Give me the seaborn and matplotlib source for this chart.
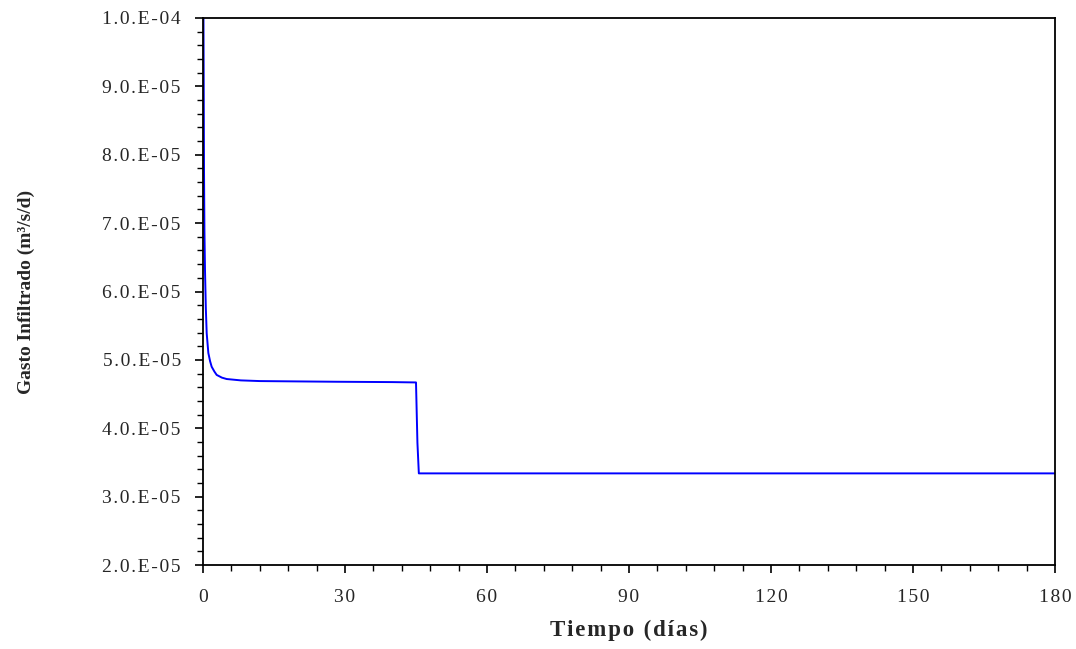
import numpy as np
import pandas as pd
import matplotlib
matplotlib.use("Agg")
import matplotlib.pyplot as plt
import seaborn as sns
from matplotlib.ticker import MultipleLocator, FixedLocator

# ---- data ----
tiempo_dias = [0.0, 0.1, 0.21, 0.3, 0.42, 0.6, 0.78, 1.13, 1.5, 1.83, 2.4, 2.89,
               4.0, 5.0, 8.0, 12.0, 20.0, 28.2, 40.0, 45.0, 45.3, 45.6, 60.0,
               90.0, 120.0, 150.0, 180.0]
gasto = [1.20e-4, 1.00e-4, 7.83e-5, 6.90e-5, 6.32e-5, 5.75e-5, 5.39e-5, 5.10e-5,
         4.98e-5, 4.90e-5, 4.83e-5, 4.78e-5, 4.74e-5, 4.72e-5, 4.70e-5, 4.69e-5,
         4.685e-5, 4.68e-5, 4.675e-5, 4.67e-5, 3.79e-5, 3.34e-5, 3.34e-5,
         3.34e-5, 3.34e-5, 3.34e-5, 3.34e-5]

x_ticks = [0, 30, 60, 90, 120, 150, 180]
y_ticks = [2.0e-5, 3.0e-5, 4.0e-5, 5.0e-5, 6.0e-5, 7.0e-5, 8.0e-5, 9.0e-5, 1.0e-4]
y_ticklabels = ["2.0.E-05", "3.0.E-05", "4.0.E-05", "5.0.E-05", "6.0.E-05",
                "7.0.E-05", "8.0.E-05", "9.0.E-05", "1.0.E-04"]
x_label = "Tiempo (días)"
y_label = "Gasto Infiltrado (m³/s/d)"

df = pd.DataFrame({"t": tiempo_dias, "q": gasto})

sns.set_theme(style="ticks")
plt.rcParams["font.family"] = ["Liberation Serif", "DejaVu Serif"]

def spaced(s, sep="\u200a"):
    return sep.join(list(s))

fig = plt.figure(figsize=(10.76, 6.49), dpi=100)
ax = fig.add_axes([203 / 1076, 1 - 565 / 649, (1055 - 203) / 1076, (565 - 18) / 649])

sns.lineplot(data=df, x="t", y="q", ax=ax, color="#0000FF", linewidth=1.4,
             estimator=None, sort=False)

ax.set_xlim(0, 180)
ax.set_ylim(2.0e-5, 1.0e-4)
ax.xaxis.set_major_locator(FixedLocator(x_ticks))
ax.xaxis.set_minor_locator(MultipleLocator(6))
ax.yaxis.set_major_locator(FixedLocator(y_ticks))
ax.yaxis.set_minor_locator(MultipleLocator(2e-6))
ax.set_xticklabels([spaced(str(v)) for v in x_ticks], fontsize=14)
ax.set_yticklabels([spaced(s) for s in y_ticklabels], fontsize=14)

ax.tick_params(axis="both", which="major", direction="out", length=6, width=1.2,
               color="black")
ax.tick_params(axis="both", which="minor", direction="out", length=4, width=1.0,
               color="black")
ax.tick_params(top=False, right=False, which="both")
ax.tick_params(axis="y", which="major", pad=10)
ax.tick_params(axis="x", which="major", pad=11)

for sp in ax.spines.values():
    sp.set_visible(True)
    sp.set_color("black")
    sp.set_linewidth(1.3)

ax.set_xlabel(spaced(x_label), fontsize=16.5, fontweight="bold")
ax.xaxis.set_label_coords(0.5, -0.1)
ax.set_ylabel(y_label, fontsize=14, fontweight="bold")
ax.yaxis.set_label_coords(-0.197, 0.5)

fig.savefig("out.png", dpi=100, facecolor="white")
